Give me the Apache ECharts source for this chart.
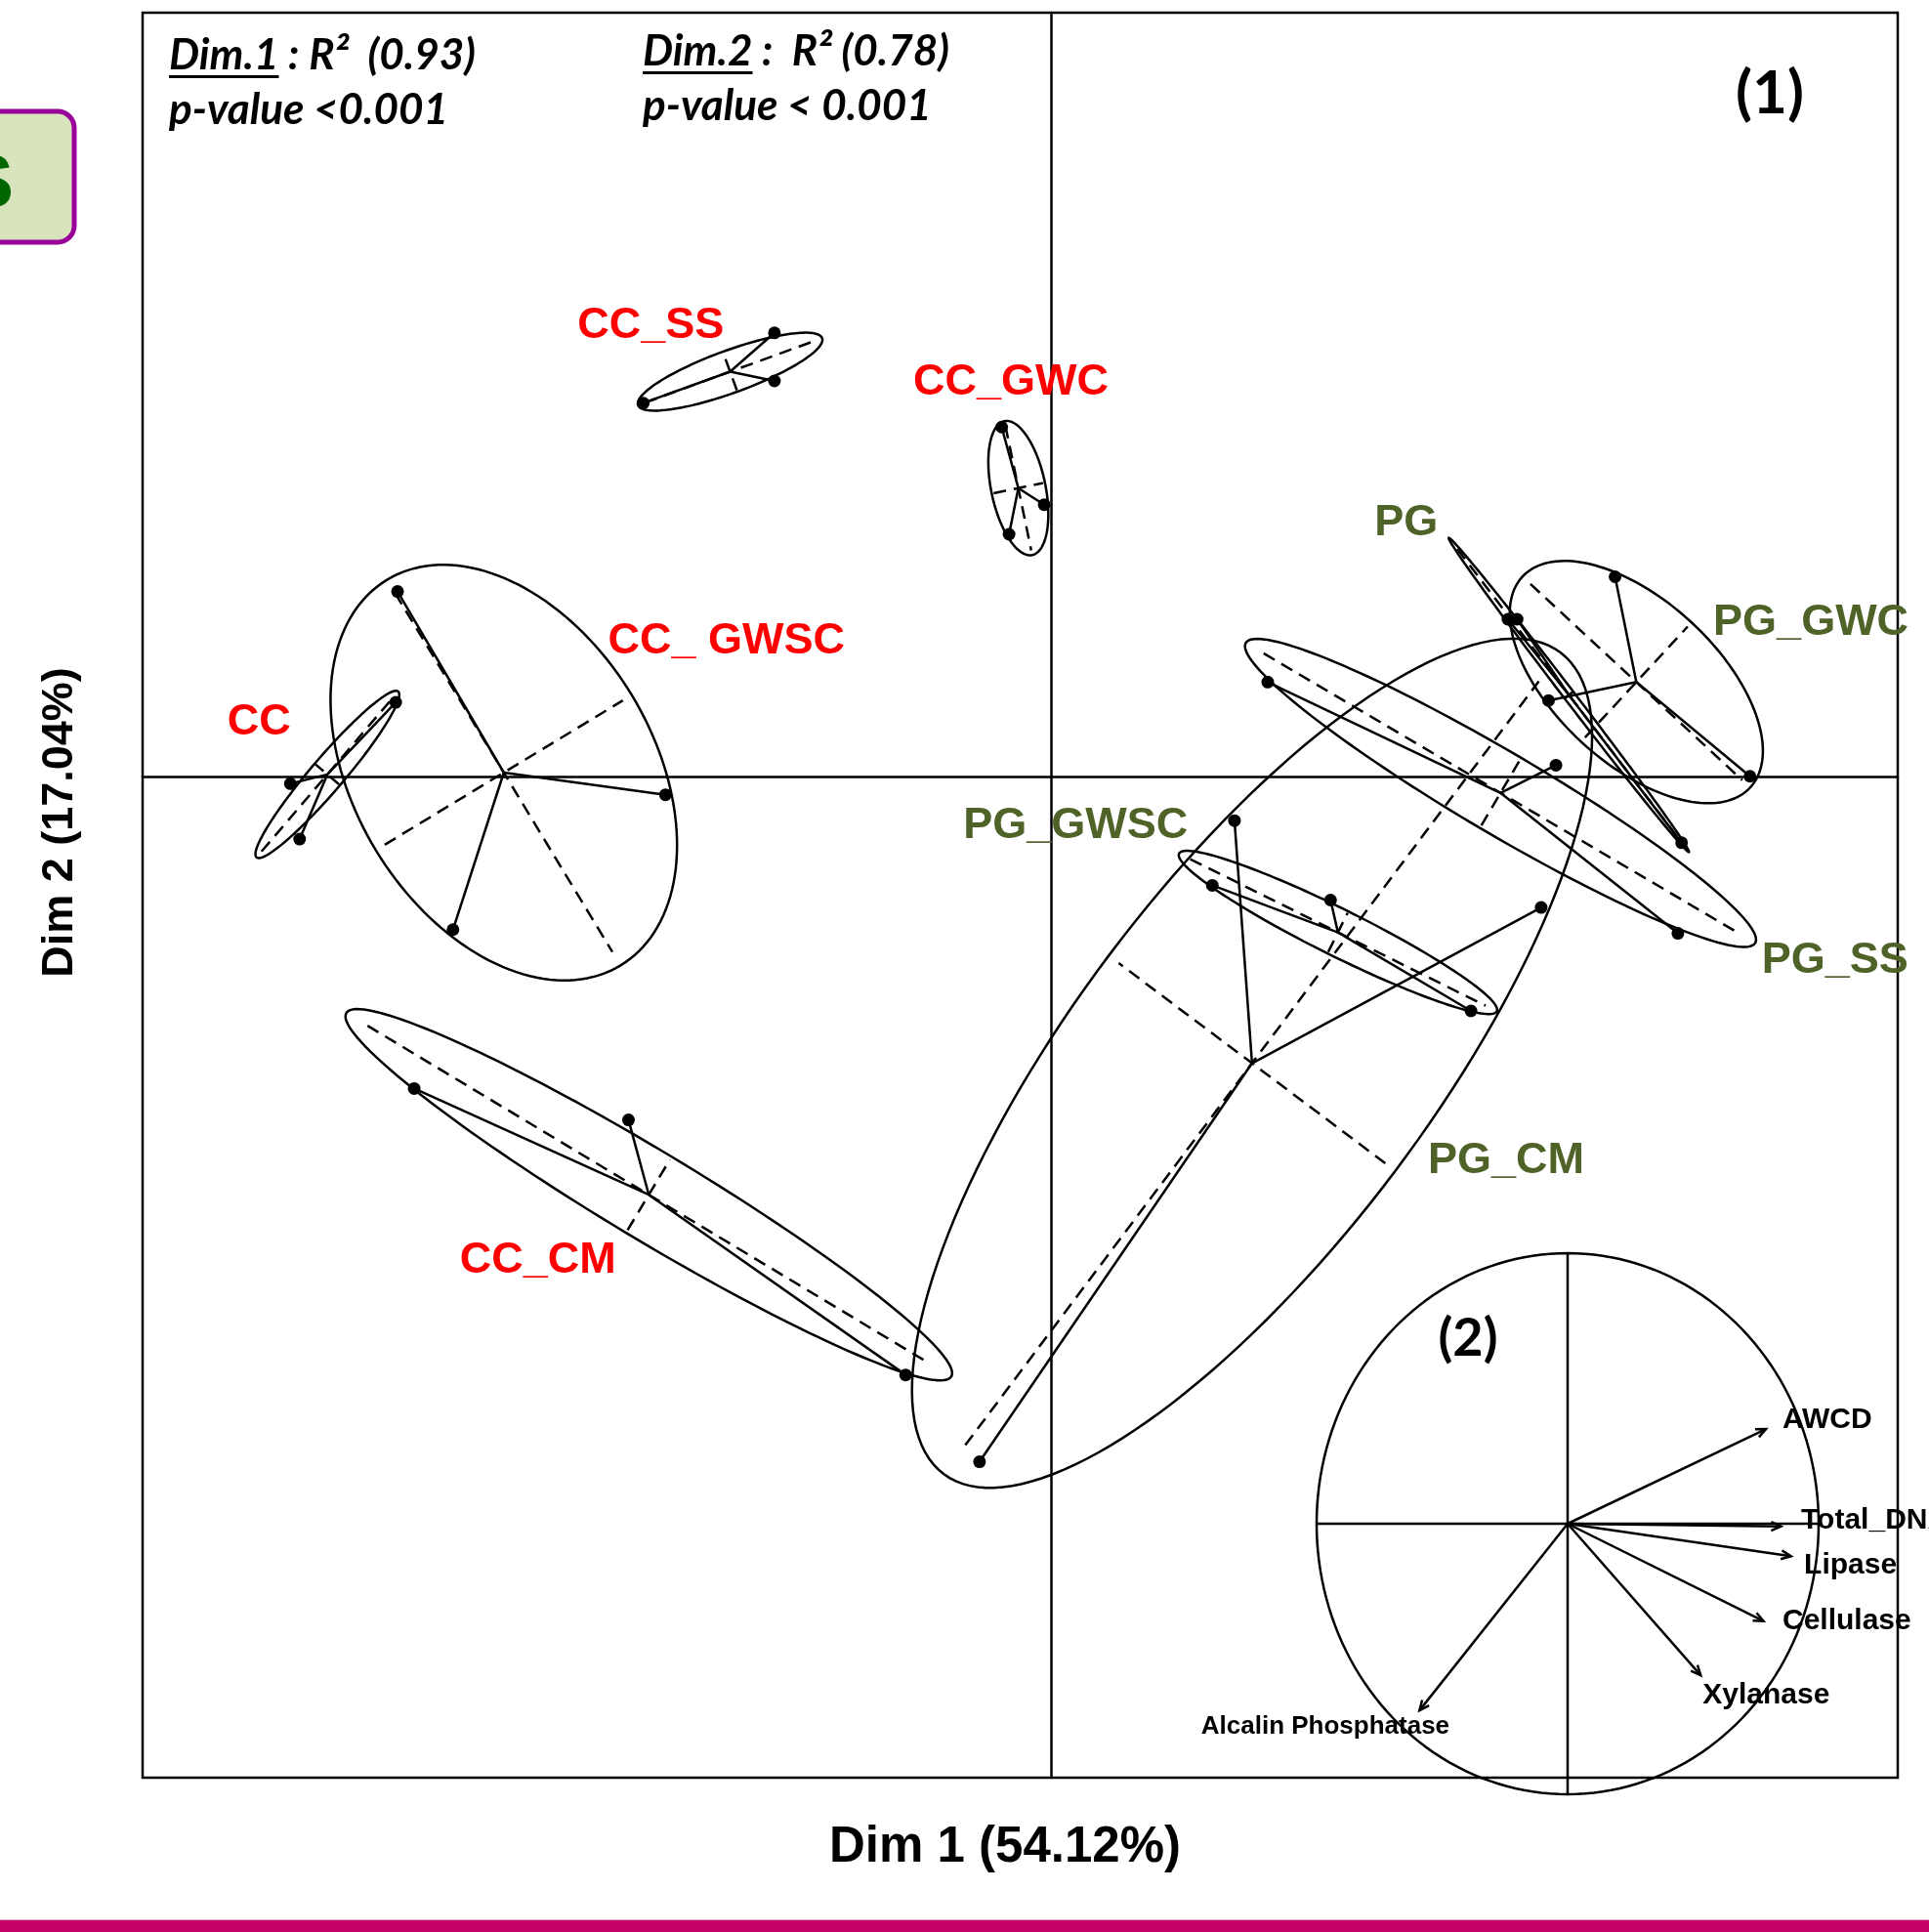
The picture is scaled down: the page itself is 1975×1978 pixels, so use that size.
<!DOCTYPE html>
<html>
<head>
<meta charset="utf-8">
<title>ACP - Dim 1 / Dim 2</title>
<script src="https://cdn.jsdelivr.net/npm/echarts@6/dist/echarts.min.js"></script>
<style>
  html, body { margin: 0; padding: 0; background: #fff; }
  #main { width: 1975px; height: 1978px; }
</style>
</head>
<body>
<div id="main"></div>
<script>
// ---- données : coordonnées des individus sur Dim 1 / Dim 2 ----
var groupNames = ['CC', 'CC_SS', 'CC_GWC', 'CC_ GWSC', 'CC_CM', 'PG', 'PG_GWC', 'PG_SS', 'PG_GWSC', 'PG_CM'];

var ptsCC      = [[-3.55, 0.40], [-4.12, -0.04], [-4.07, -0.34]];
var ptsCC_SS   = [[-1.50, 2.40], [-2.21, 2.02], [-1.50, 2.14]];
var ptsCC_GWC  = [[-0.27, 1.89], [-0.04, 1.47], [-0.23, 1.31]];
var ptsCC_GWSC = [[-3.54, 1.00], [-2.09, -0.10], [-3.24, -0.83]];
var ptsCC_CM   = [[-3.45, -1.69], [-2.29, -1.86], [-0.79, -3.24]];
var ptsPG      = [[2.47, 0.85], [2.52, 0.85], [3.41, -0.36]];
var ptsPG_GWC  = [[3.05, 1.08], [2.69, 0.41], [3.78, 0.00]];
var ptsPG_SS   = [[1.17, 0.51], [2.73, 0.06], [3.39, -0.85]];
var ptsPG_GWSC = [[0.87, -0.59], [1.51, -0.67], [2.27, -1.27]];
var ptsPG_CM   = [[0.99, -0.24], [2.65, -0.71], [-0.39, -3.71]];
var groupPoints = [ptsCC, ptsCC_SS, ptsCC_GWC, ptsCC_GWSC, ptsCC_CM, ptsPG, ptsPG_GWC, ptsPG_SS, ptsPG_GWSC, ptsPG_CM];

// centres de gravite des groupes
var groupCenters = [[-3.92, 0.01], [-1.74, 2.19], [-0.18, 1.56], [-2.965, 0.02], [-2.18, -2.265],
                    [2.80, 0.44], [3.165, 0.51], [2.43, -0.09], [1.55, -0.845], [1.085, -1.553]];
// ellipses : demi grand axe, demi petit axe, angle (degres)
var ellipseA     = [0.59, 0.53, 0.37, 1.22, 1.91, 1.07, 0.84, 1.60, 0.96, 2.78];
var ellipseB     = [0.09, 0.115, 0.147, 0.81, 0.24, 0.03, 0.44, 0.22, 0.127, 0.97];
var ellipseAngle = [49.5, 20, -78.3, -58.8, -31, -52.6, -42.8, -30.5, -26.4, 53.1];
// ancrage des etiquettes de groupe
var labelAnchor = [[-4.29, 0.29], [-2.17, 2.44], [-0.22, 2.13], [-1.76, 0.73], [-2.78, -2.62],
                   [1.92, 1.37], [4.11, 0.83], [4.24, -1.0], [0.13, -0.27], [2.46, -2.08]];

var dim1Range = [-4.92, 4.58];
var dim2Range = [-5.42, 4.133];

// cercle des correlations (2)
var varNames = ['AWCD', 'Total_DNA', 'Lipase', 'Cellulase', 'Xylanase', 'Alcalin Phosphatase'];
var varDim1  = [0.79, 0.85, 0.89, 0.78, 0.53, -0.59];
var varDim2  = [0.35, -0.01, -0.12, -0.36, -0.56, -0.69];
var varLabelAnchor = [[0.856, 0.385], [0.93, 0.012], [0.942, -0.156], [0.856, -0.361], [0.538, -0.633], [-1.46, -0.752]];

var RED = '#FF0000', GREEN = '#4F6228';
var FONT = '"Liberation Sans", Arial, sans-serif';
var LW = 2.5;

var measureCtx = document.createElement('canvas').getContext('2d');
function textWidth(str, font){
	measureCtx.font = font;
	return measureCtx.measureText(str).width;
}

// ellipse + axes pointilles + etoile
function renderGroup(params, api){
	var i = api.value(2);
	var c = groupCenters[i], a = ellipseA[i], b = ellipseB[i],
		t = ellipseAngle[i] * Math.PI / 180;
	var ux = Math.cos(t), uy = Math.sin(t), vx = -Math.sin(t), vy = Math.cos(t);
	var outline = [];
	for(var k = 0; k < 160; k++){
		var s = k / 160 * 2 * Math.PI;
		outline.push(api.coord([c[0] + a * Math.cos(s) * ux + b * Math.sin(s) * vx,
		                        c[1] + a * Math.cos(s) * uy + b * Math.sin(s) * vy]));
	}
	var line = {stroke: '#000', lineWidth: LW};
	var dash = {stroke: '#000', lineWidth: LW, lineDash: [13, 8]};
	var r = 0.93;
	var m1 = api.coord([c[0] - r * a * ux, c[1] - r * a * uy]),
		m2 = api.coord([c[0] + r * a * ux, c[1] + r * a * uy]),
		n1 = api.coord([c[0] - r * b * vx, c[1] - r * b * vy]),
		n2 = api.coord([c[0] + r * b * vx, c[1] + r * b * vy]);
	var children = [
		{type: 'polygon', shape: {points: outline}, style: {fill: 'none', stroke: '#000', lineWidth: LW}},
		{type: 'line', shape: {x1: m1[0], y1: m1[1], x2: m2[0], y2: m2[1]}, style: dash},
		{type: 'line', shape: {x1: n1[0], y1: n1[1], x2: n2[0], y2: n2[1]}, style: dash}
	];
	var pc = api.coord(c);
	groupPoints[i].forEach(function(p){
		var pp = api.coord(p);
		children.push({type: 'line', shape: {x1: pc[0], y1: pc[1], x2: pp[0], y2: pp[1]}, style: line});
	});
	return {type: 'group', children: children};
}

function renderLabel(params, api){
	var i = api.value(2);
	var p = api.coord([api.value(0), api.value(1)]);
	var name = groupNames[i];
	return {
		type: 'text', x: p[0], y: p[1],
		style: {text: name, font: 'bold 45px ' + FONT, fill: name.indexOf('CC') === 0 ? RED : GREEN,
			align: 'center', verticalAlign: 'middle', textAlign: 'center', textVerticalAlign: 'middle'}
	};
}

// cercle + axes du cercle des correlations
function renderCircle(params, api){
	var pts = [];
	for(var k = 0; k < 180; k++){
		var s = k / 180 * 2 * Math.PI;
		pts.push(api.coord([Math.cos(s), Math.sin(s)]));
	}
	var l = api.coord([-1, 0]), r = api.coord([1, 0]), tp = api.coord([0, 1]), bt = api.coord([0, -1]);
	var st = {stroke: '#000', lineWidth: LW};
	return {type: 'group', children: [
		{type: 'polygon', shape: {points: pts}, style: {fill: 'none', stroke: '#000', lineWidth: LW}},
		{type: 'line', shape: {x1: l[0], y1: l[1], x2: r[0], y2: r[1]}, style: st},
		{type: 'line', shape: {x1: tp[0], y1: tp[1], x2: bt[0], y2: bt[1]}, style: st}
	]};
}

// fleches des variables
function renderArrow(params, api){
	var i = api.value(2);
	var o = api.coord([0, 0]), p = api.coord([api.value(0), api.value(1)]);
	var ang = Math.atan2(p[1] - o[1], p[0] - o[0]), hl = 11, ha = 0.42;
	var h1 = [p[0] - hl * Math.cos(ang - ha), p[1] - hl * Math.sin(ang - ha)],
		h2 = [p[0] - hl * Math.cos(ang + ha), p[1] - hl * Math.sin(ang + ha)];
	var lp = api.coord(varLabelAnchor[i]);
	var fs = i === 5 ? 26 : 30;
	return {type: 'group', children: [
		{type: 'line', shape: {x1: o[0], y1: o[1], x2: p[0], y2: p[1]}, style: {stroke: '#000', lineWidth: LW}},
		{type: 'polyline', shape: {points: [h1, p, h2]}, style: {fill: 'none', stroke: '#000', lineWidth: LW}},
		{type: 'text', x: lp[0], y: lp[1], style: {text: varNames[i], font: 'bold ' + fs + 'px ' + FONT, fill: '#000',
			align: 'left', verticalAlign: 'middle', textAlign: 'left', textVerticalAlign: 'middle'}}
	]};
}

var allPoints = [];
groupPoints.forEach(function(g){ g.forEach(function(p){ allPoints.push(p); }); });

var topFont = 'italic bold 44px Lato, "Open Sans", sans-serif';
var w1 = textWidth('Dim.1', topFont), w2 = textWidth('Dim.2', topFont);

function txt(x, y, s, font, align, extra){
	var el = {type: 'text', x: x, y: y, style: {text: s, font: font, fill: '#000',
		align: align, verticalAlign: 'middle', textAlign: align, textVerticalAlign: 'middle'}};
	if(extra){ for(var k in extra){ el[k] = extra[k]; } }
	return el;
}

var myChart = echarts.init(document.getElementById('main'), null, {renderer: 'canvas'});
var option = {
	animation: false,
	backgroundColor: '#fff',
	grid: [
		{left: 146, top: 13, width: 1797, height: 1807, show: true, borderColor: '#000', borderWidth: 2.5, backgroundColor: 'transparent'},
		{left: 1348, top: 1283, width: 514, height: 554}
	],
	xAxis: [
		{type: 'value', gridIndex: 0, min: dim1Range[0], max: dim1Range[1],
			axisLine: {show: true, onZero: true, lineStyle: {color: '#000', width: 2.5}},
			axisTick: {show: false}, axisLabel: {show: false}, splitLine: {show: false}},
		{type: 'value', gridIndex: 1, min: -1, max: 1, show: false}
	],
	yAxis: [
		{type: 'value', gridIndex: 0, min: dim2Range[0], max: dim2Range[1],
			axisLine: {show: true, onZero: true, lineStyle: {color: '#000', width: 2.5}},
			axisTick: {show: false}, axisLabel: {show: false}, splitLine: {show: false}},
		{type: 'value', gridIndex: 1, min: -1, max: 1, show: false}
	],
	series: [
		{type: 'custom', xAxisIndex: 0, yAxisIndex: 0, renderItem: renderGroup, z: 2,
			data: groupCenters.map(function(c, i){ return [c[0], c[1], i]; })},
		{type: 'scatter', xAxisIndex: 0, yAxisIndex: 0, symbolSize: 13, z: 4,
			itemStyle: {color: '#000', opacity: 1}, data: allPoints},
		{type: 'custom', xAxisIndex: 0, yAxisIndex: 0, renderItem: renderLabel, z: 1,
			data: labelAnchor.map(function(c, i){ return [c[0], c[1], i]; })},
		{type: 'custom', xAxisIndex: 1, yAxisIndex: 1, renderItem: renderCircle, z: 3, data: [[0, 0, 0]]},
		{type: 'custom', xAxisIndex: 1, yAxisIndex: 1, renderItem: renderArrow, z: 3,
			data: varDim1.map(function(v, i){ return [v, varDim2[i], i]; })}
	],
	graphic: [
		// encadre du titre (coupe a gauche)
		{type: 'rect', shape: {x: -80, y: 114, width: 156, height: 134, r: 17},
			style: {fill: '#D7E4BD', stroke: '#990099', lineWidth: 5}},
		txt(-12, 190, 'S', 'bold 78px ' + FONT, 'center',
			{style: {text: 'S', font: 'bold 78px ' + FONT, fill: '#006600', align: 'center', verticalAlign: 'middle',
				textAlign: 'center', textVerticalAlign: 'middle',
				shadowColor: 'rgba(0,0,0,0.4)', shadowBlur: 4, shadowOffsetX: 3, shadowOffsetY: 3}}),
		// R2 et p-values
		txt(173, 57, 'Dim.1 : R\u00b2  (0.93)', topFont, 'left'),
		{type: 'rect', shape: {x: 173, y: 77, width: w1, height: 3}, style: {fill: '#000'}},
		txt(173, 113, 'p-value <0.001', topFont, 'left'),
		txt(658, 53, 'Dim.2 :  R\u00b2 (0.78)', topFont, 'left'),
		{type: 'rect', shape: {x: 658, y: 73, width: w2, height: 3}, style: {fill: '#000'}},
		txt(658, 109, 'p-value < 0.001', topFont, 'left'),
		txt(1812, 96, '(1)', 'bold 62px Lato, sans-serif', 'center'),
		txt(1503, 1371, '(2)', 'bold 54px Lato, sans-serif', 'center'),
		// titres des axes
		txt(1029, 1892, 'Dim 1 (54.12%)', 'bold 51px ' + FONT, 'center'),
		txt(62, 842, 'Dim 2 (17.04%)', 'bold 45px ' + FONT, 'center', {rotation: Math.PI / 2}),
		// bande du bas
		{type: 'rect', shape: {x: 0, y: 1965, width: 1975, height: 1}, style: {fill: '#E8A8C8'}},
		{type: 'rect', shape: {x: 0, y: 1966, width: 1975, height: 12}, style: {fill: '#C20066'}}
	]
};
myChart.setOption(option);
</script>
</body>
</html>
